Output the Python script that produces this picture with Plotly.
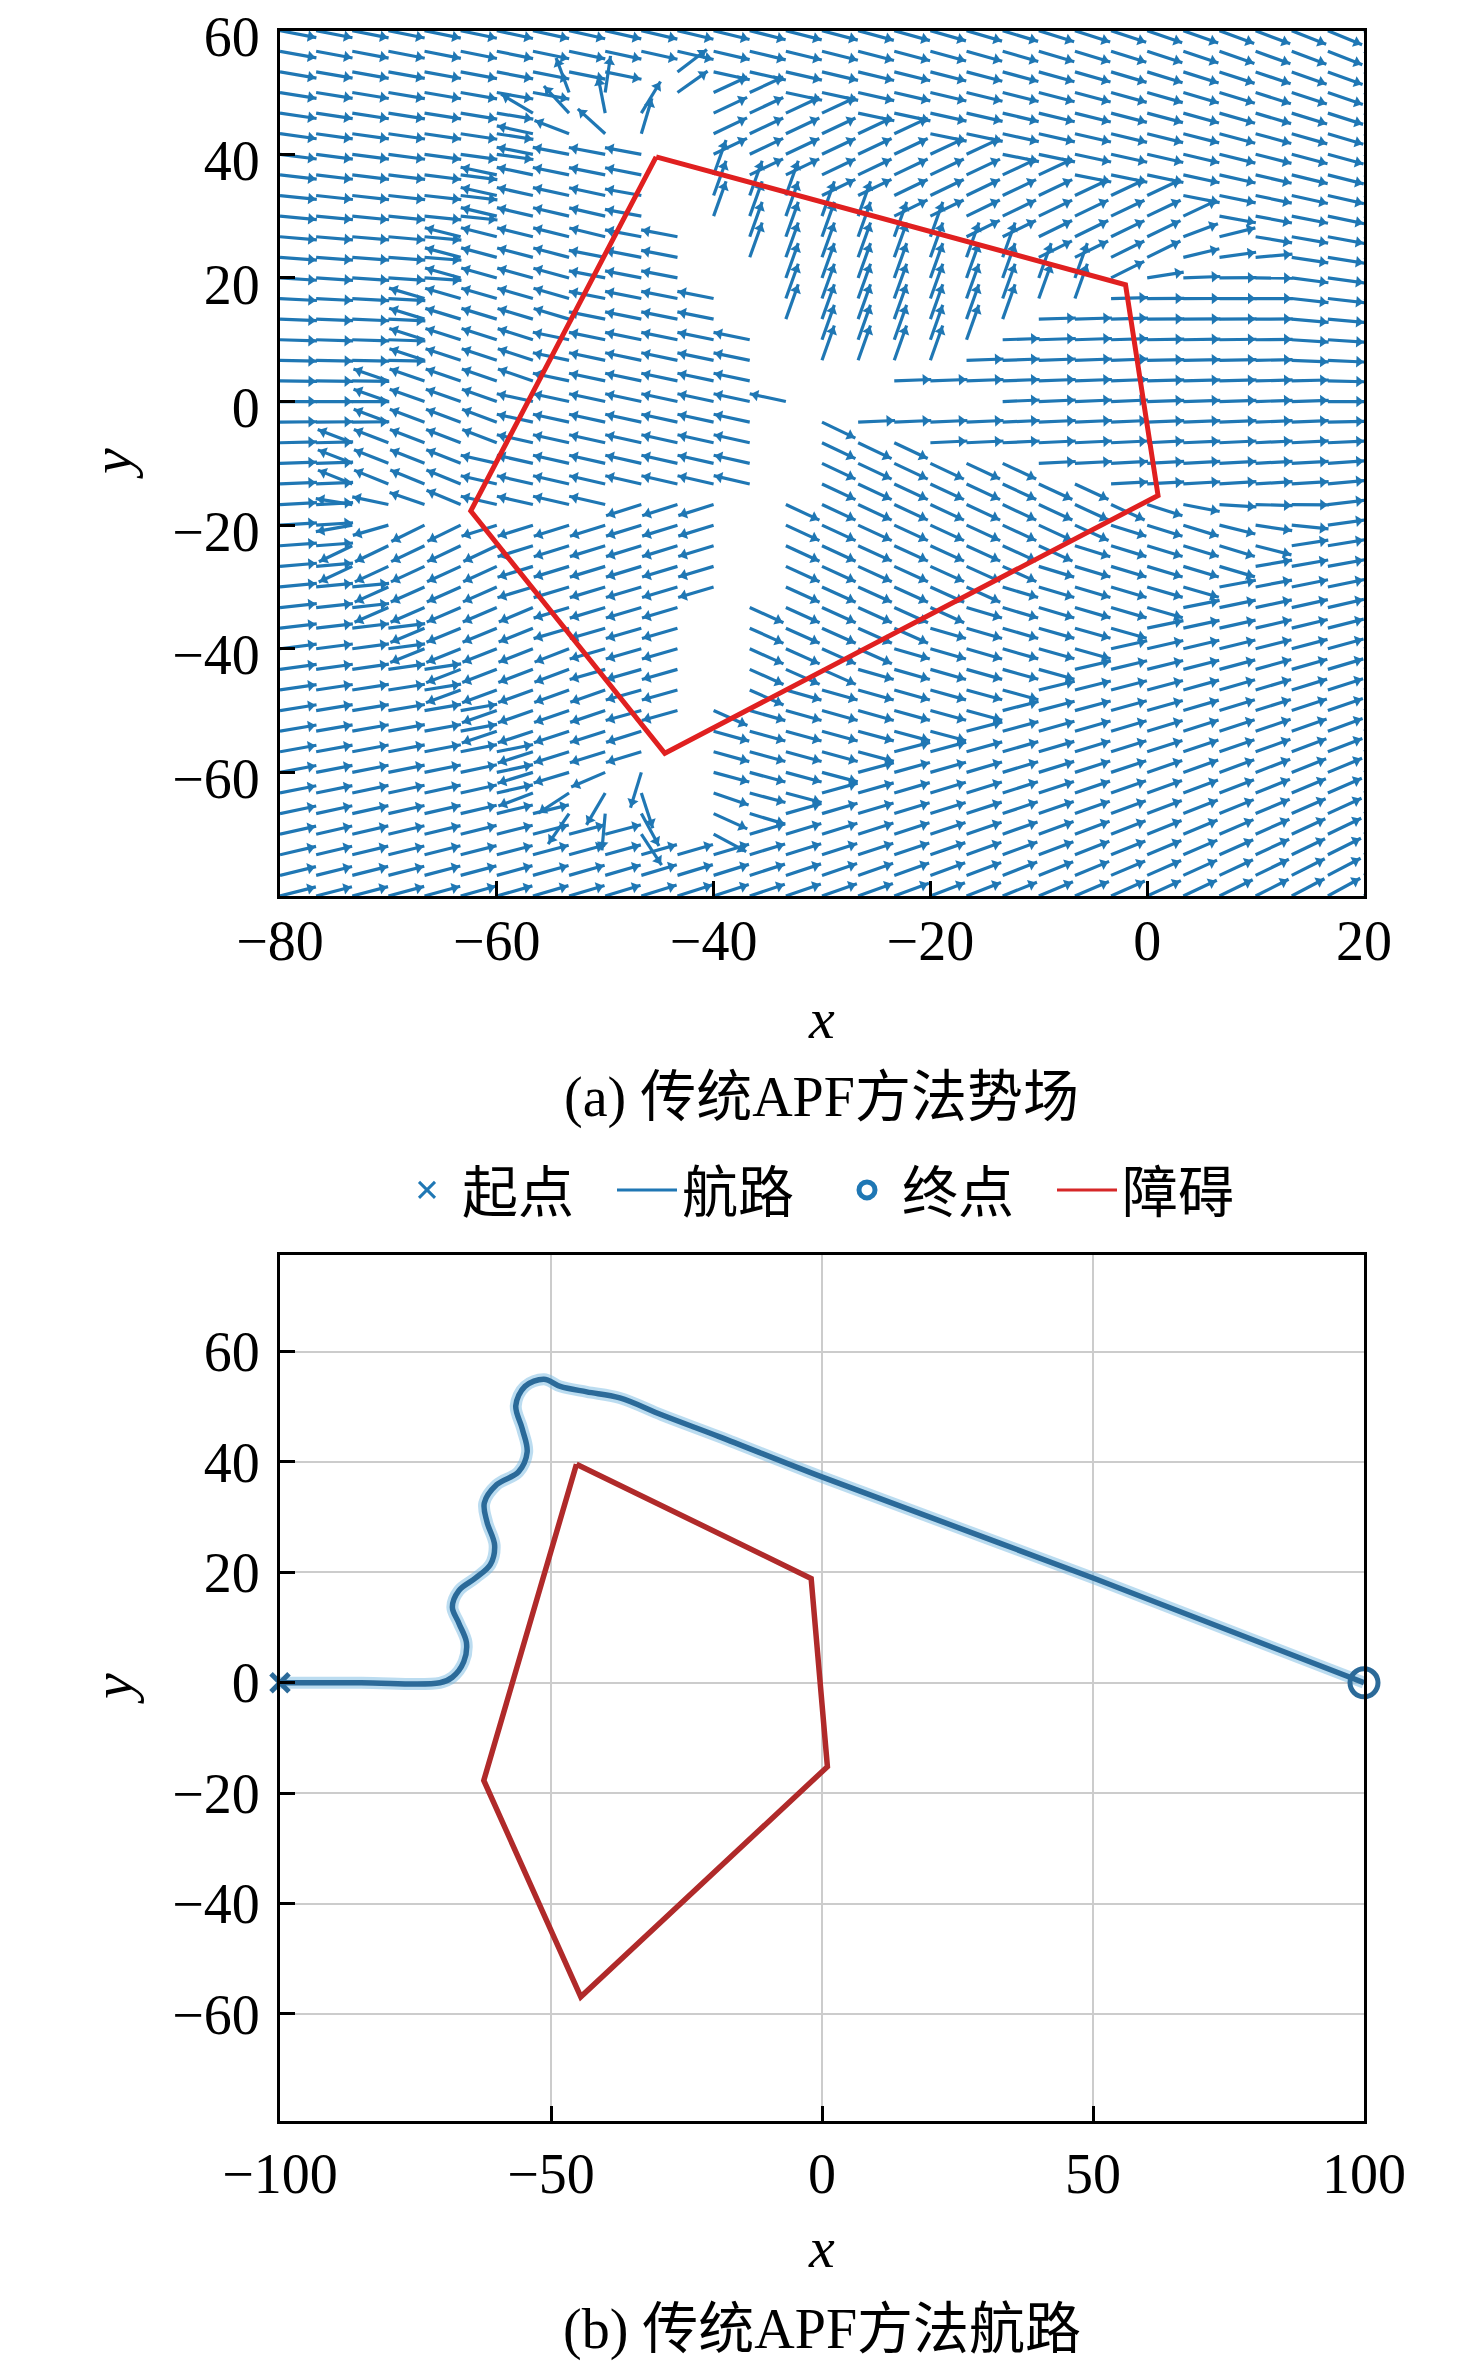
import numpy as np
import plotly.graph_objects as go

# ---------------- data ----------------
# obstacle polygon (vertices, clockwise)
OBS_X = [-45.3, -2.0, 1.0, -44.5, -62.4]
OBS_Y = [39.6, 18.9, -15.2, -56.9, -17.7]

# planned path of the traditional APF method (panel b)
PATH_X = [-100.0, -85.0, -70.5, -68.2, -66.1, -65.6, -67.0, -68.2, -67.0, -63.9,
          -61.2, -60.4, -61.8, -62.3, -60.0, -56.0, -54.4, -55.3, -56.5, -54.8,
          -51.3, -48.3, -43.4, -37.3, -29.5, -19.0, 0.2, 50.5, 100.0]
PATH_Y = [0.0, 0.0, 0.0, 1.0, 3.8, 7.3, 10.8, 13.7, 16.7, 19.0,
          21.4, 24.9, 29.1, 32.6, 35.9, 38.2, 41.8, 46.0, 50.2, 53.7,
          55.0, 53.7, 52.7, 51.6, 48.5, 44.6, 37.2, 18.8, 0.0]

START_X = [-100.0]
START_Y = [0.0]
GOAL_X = [100.0]
GOAL_Y = [0.0]

# quiver grid of panel (a)
GRID_X = np.linspace(-80, 20, 31)
GRID_Y = np.linspace(-80, 60, 43)

# centre lines of the blank (arrow-free) bands seen in panel (a)
GAP_MAIN_X = [-46.0, -42.0, -31.0, -36.0, -41.0, -44.0]
GAP_MAIN_Y = [53.0, 30.0, 1.0, -20.0, -45.0, -69.0]
GAP_BRANCH_X = [-31.0, -17.0]
GAP_BRANCH_Y = [1.0, 0.0]

# APF parameters
D0 = 14.0        # repulsive influence distance
K_IN = 5.0       # repulsion inside obstacle
K_OUT = 2.0      # repulsion inside influence ring

X_TICKS_A = [-80, -60, -40, -20, 0, 20]
Y_TICKS_A = [-60, -40, -20, 0, 20, 40, 60]
X_TICKS_B = [-100, -50, 0, 50, 100]
Y_TICKS_B = [-60, -40, -20, 0, 20, 40, 60]


def tick_text(vals):
    return [("\u2212" + str(-v)) if v < 0 else str(v) for v in vals]


# ---------------- layout geometry (target pixels in the photo) ----------------
W, H = 1476, 2366
OFF = 8            # page body margin of the browser
PX_L, PX_R = 280, 1364
A_TOP, A_BOT = 30.7, 896
B_TOP, B_BOT = 1255, 2121
XA_RANGE = [-80, 20]
YA_RANGE = [-80, 60]
XB_RANGE = [-100, 100]
YB_RANGE = [-79.4, 77.5]


def px(v):
    return (v - OFF) / W


def py(v):
    return 1 - (v - OFF) / H


SX = (PX_R - PX_L) / (XA_RANGE[1] - XA_RANGE[0])
SY = (A_BOT - A_TOP) / (YA_RANGE[1] - YA_RANGE[0])
ARROW_PX = 37.0

FONT = "Liberation Serif, Noto Sans CJK SC, serif"
BLUE = "#1f77b4"

# ---------------- quiver field ----------------
ox = np.array(OBS_X)
oy = np.array(OBS_Y)
nv = len(ox)
GAP_LINES = ((GAP_MAIN_X, GAP_MAIN_Y), (GAP_BRANCH_X, GAP_BRANCH_Y))
LEFT_EDGES = (3, 4)      # edges left of the main blank band
RIGHT_EDGES = (0, 1, 2)  # edges right of it


def inside_poly(qx, qy):
    c = False
    j = nv - 1
    for i in range(nv):
        if ((oy[i] > qy) != (oy[j] > qy)) and \
                (qx < (ox[j] - ox[i]) * (qy - oy[i]) / (oy[j] - oy[i]) + ox[i]):
            c = not c
        j = i
    return c


def seg_near(qx, qy, ax, ay, bx, by):
    ex, ey = bx - ax, by - ay
    t = ((qx - ax) * ex + (qy - ay) * ey) / (ex * ex + ey * ey)
    t = min(1.0, max(0.0, t))
    nx, ny = ax + t * ex, ay + t * ey
    return nx, ny, np.hypot(qx - nx, qy - ny)


def gap_dist_px(qx, qy):
    best = 1e9
    for xs, ys in GAP_LINES:
        for k in range(len(xs) - 1):
            _, _, d = seg_near(qx * SX, qy * SY, xs[k] * SX, ys[k] * SY,
                               xs[k + 1] * SX, ys[k + 1] * SY)
            best = min(best, d)
    return best


def nearest_edge(qx, qy, edges):
    best = None
    for i in edges:
        j = (i + 1) % nv
        nx, ny, d = seg_near(qx, qy, ox[i], oy[i], ox[j], oy[j])
        if best is None or d < best[2]:
            best = (nx, ny, d, i, j)
    return best


spine_y_inc = GAP_MAIN_Y[::-1]
spine_x_inc = GAP_MAIN_X[::-1]

shaft_x, shaft_y = [], []
head_x, head_y, head_a = [], [], []
for x0 in GRID_X:
    for y0 in GRID_Y:
        if gap_dist_px(x0, y0) < 17:
            continue
        gx, gy = GOAL_X[0] - x0, GOAL_Y[0] - y0
        gn = np.hypot(gx, gy)
        fx, fy = gx / gn, gy / gn
        if inside_poly(x0, y0):
            spine_x = np.interp(y0, spine_y_inc, spine_x_inc)
            edges = LEFT_EDGES if x0 < spine_x else RIGHT_EDGES
            _, _, _, i, j = nearest_edge(x0, y0, edges)
            if i == 0:
                rx, ry = 0.0, 1.0
            else:
                rx, ry = -(oy[j] - oy[i]), ox[j] - ox[i]
            rn = np.hypot(rx, ry)
            fx += K_IN * rx / rn
            fy += K_IN * ry / rn
        else:
            qx, qy, d, _, _ = nearest_edge(x0, y0, range(nv))
            if d < D0:
                fx += K_OUT * (x0 - qx) / d
                fy += K_OUT * (y0 - qy) / d
        ux, uy = fx * SX, fy * SY
        un = np.hypot(ux, uy)
        ux, uy = ux / un, uy / un
        x1 = x0 + ux * ARROW_PX / SX
        y1 = y0 + uy * ARROW_PX / SY
        shaft_x += [x0, x1, None]
        shaft_y += [y0, y1, None]
        head_x.append(x0 + ux * (ARROW_PX - 6) / SX)
        head_y.append(y0 + uy * (ARROW_PX - 6) / SY)
        head_a.append(float(np.degrees(np.arctan2(ux, uy))))

fig = go.Figure()

# ---- panel (a) ----
fig.add_trace(go.Scatter(x=shaft_x, y=shaft_y, mode="lines",
                         line=dict(color=BLUE, width=3.2),
                         showlegend=False, hoverinfo="skip",
                         xaxis="x", yaxis="y"))
fig.add_trace(go.Scatter(x=head_x, y=head_y, mode="markers",
                         marker=dict(symbol="triangle-up", size=10, angle=head_a,
                                     color=BLUE, line=dict(width=0)),
                         showlegend=False, hoverinfo="skip",
                         xaxis="x", yaxis="y"))
fig.add_trace(go.Scatter(x=OBS_X + OBS_X[:1], y=OBS_Y + OBS_Y[:1], mode="lines",
                         line=dict(color="#e02020", width=5),
                         showlegend=False, xaxis="x", yaxis="y"))

# ---- panel (b) ----
fig.add_trace(go.Scatter(x=PATH_X, y=PATH_Y, mode="lines",
                         line=dict(color="rgba(120,185,225,0.5)", width=12, shape="spline",
                                   smoothing=1.0),
                         showlegend=False, hoverinfo="skip", xaxis="x2", yaxis="y2"))
fig.add_trace(go.Scatter(x=PATH_X, y=PATH_Y, mode="lines",
                         line=dict(color="#2b6a99", width=5.5, shape="spline", smoothing=1.0),
                         showlegend=False, xaxis="x2", yaxis="y2"))
fig.add_trace(go.Scatter(x=OBS_X + OBS_X[:1], y=OBS_Y + OBS_Y[:1], mode="lines",
                         line=dict(color="#b02a2a", width=5.5),
                         showlegend=False, xaxis="x2", yaxis="y2"))
fig.add_trace(go.Scatter(x=START_X, y=START_Y, mode="markers", cliponaxis=False,
                         marker=dict(symbol="x-thin", size=18, color="#2b6a99",
                                     line=dict(width=5, color="#2b6a99")),
                         showlegend=False, xaxis="x2", yaxis="y2"))
fig.add_trace(go.Scatter(x=GOAL_X, y=GOAL_Y, mode="markers", cliponaxis=False,
                         marker=dict(symbol="circle-open", size=28, color="#2b6a99",
                                     line=dict(width=5, color="#2b6a99")),
                         showlegend=False, xaxis="x2", yaxis="y2"))

# legend entries
fig.add_trace(go.Scatter(x=[None], y=[None], mode="markers", name="起点",
                         marker=dict(symbol="x-thin", size=16, color=BLUE,
                                     line=dict(width=3, color=BLUE)),
                         xaxis="x2", yaxis="y2"))
fig.add_trace(go.Scatter(x=[None], y=[None], mode="lines", name="航路",
                         line=dict(color=BLUE, width=3), xaxis="x2", yaxis="y2"))
fig.add_trace(go.Scatter(x=[None], y=[None], mode="markers", name="终点",
                         marker=dict(symbol="circle-open", size=18, color=BLUE,
                                     line=dict(width=8, color=BLUE)),
                         xaxis="x2", yaxis="y2"))
fig.add_trace(go.Scatter(x=[None], y=[None], mode="lines", name="障碍",
                         line=dict(color="#d62728", width=3), xaxis="x2", yaxis="y2"))

xd = [px(PX_L), px(PX_R)]
ax_common = dict(showline=True, linecolor="black", linewidth=3, mirror=True,
                 ticks="inside", ticklen=15, tickwidth=3, tickcolor="black",
                 tickfont=dict(family=FONT, size=56, color="black"),
                 zeroline=False, automargin=False, ticklabeloverflow="allow")


def label(text, xp, yp, angle=0, size=56):
    return dict(text=text, x=px(xp), y=py(yp), xref="paper", yref="paper",
                xanchor="center", yanchor="middle", showarrow=False,
                textangle=angle, font=dict(family=FONT, size=size, color="black"))


fig.update_layout(
    width=W, height=H, autosize=False,
    margin=dict(l=0, r=0, t=0, b=0, pad=0),
    paper_bgcolor="white", plot_bgcolor="white",
    font=dict(family=FONT, size=56, color="black"),
    xaxis=dict(domain=xd, range=XA_RANGE, tickvals=X_TICKS_A,
               ticktext=tick_text(X_TICKS_A), showgrid=False,
               anchor="y", ticklabelstandoff=-6, **ax_common),
    yaxis=dict(domain=[py(A_BOT), py(A_TOP)], range=YA_RANGE,
               tickvals=Y_TICKS_A, ticktext=tick_text(Y_TICKS_A), showgrid=False,
               anchor="x", ticklabelstandoff=6, ticklabelshift=6, **ax_common),
    xaxis2=dict(domain=xd, range=XB_RANGE, tickvals=X_TICKS_B,
                ticktext=tick_text(X_TICKS_B), showgrid=True,
                gridcolor="#cccccc", gridwidth=1.5, anchor="y2",
                ticklabelstandoff=2, **ax_common),
    yaxis2=dict(domain=[py(B_BOT), py(B_TOP)], range=YB_RANGE,
                tickvals=Y_TICKS_B, ticktext=tick_text(Y_TICKS_B), showgrid=True,
                gridcolor="#cccccc", gridwidth=1.5, anchor="x2",
                ticklabelstandoff=6, **ax_common),
    legend=dict(orientation="h", x=px(832), xanchor="center",
                y=py(1190), yanchor="middle", font=dict(family=FONT, size=56),
                bgcolor="rgba(0,0,0,0)", itemwidth=60, traceorder="normal",
                entrywidth=145, entrywidthmode="pixels"),
    annotations=[
        label("<i>x</i>", (PX_L + PX_R) / 2, 1018, size=58),
        label("<i>y</i>", 112, 463, angle=-90, size=58),
        label("(a) 传统APF方法势场", (PX_L + PX_R) / 2, 1097),
        label("<i>x</i>", (PX_L + PX_R) / 2, 2247, size=58),
        label("<i>y</i>", 112, 1688, angle=-90, size=58),
        label("(b) 传统APF方法航路", (PX_L + PX_R) / 2, 2329),
    ],
)

fig.write_html("out.html")
